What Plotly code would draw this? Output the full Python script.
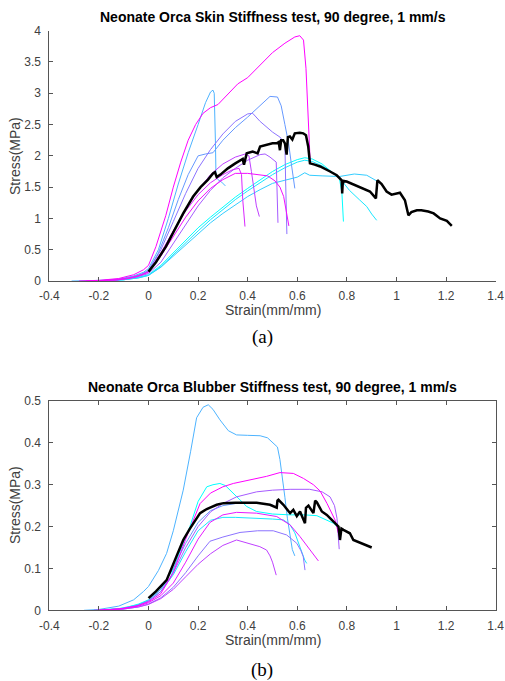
import plotly.graph_objects as go

# Skin test, 90 degree (stress in MPa vs strain)
skin_magenta_x = [-0.28,-0.2,-0.12,-0.06,-0.02,0.0,0.03,0.07,0.1,0.13,0.16,0.19,0.22,0.25,0.28,0.32,0.36,0.4,0.45,0.5,0.55,0.59,0.61,0.625,0.635,0.642,0.648,0.652]
skin_magenta_y = [0,0.01,0.04,0.1,0.18,0.25,0.55,1.05,1.5,1.9,2.25,2.5,2.68,2.77,2.82,2.98,3.15,3.25,3.45,3.65,3.8,3.9,3.92,3.85,3.4,2.8,2.2,1.9]
skin_lightblue_x = [-0.31,-0.2,-0.12,-0.06,-0.02,0.0,0.04,0.08,0.12,0.16,0.2,0.23,0.25,0.26,0.265,0.268,0.27,0.272,0.28,0.295,0.31]
skin_lightblue_y = [0,0.01,0.03,0.08,0.14,0.2,0.5,1.0,1.55,2.05,2.5,2.85,3.02,3.05,3.0,2.7,2.2,1.7,1.62,1.58,1.52]
skin_blue_x = [-0.25,-0.15,-0.08,-0.03,0.0,0.04,0.08,0.12,0.16,0.2,0.23,0.26,0.3,0.35,0.4,0.45,0.49,0.52,0.535,0.55,0.565,0.575,0.585,0.59]
skin_blue_y = [0,0.01,0.05,0.11,0.17,0.45,0.85,1.3,1.7,2.0,2.03,2.05,2.25,2.45,2.62,2.8,2.95,2.94,2.8,2.5,2.2,1.9,1.6,1.48]
skin_periwinkle_x = [-0.25,-0.15,-0.08,-0.03,0.0,0.05,0.1,0.15,0.2,0.25,0.3,0.35,0.4,0.42,0.45,0.5,0.53,0.55,0.553,0.556,0.558]
skin_periwinkle_y = [0,0.01,0.04,0.1,0.16,0.5,0.95,1.4,1.8,2.1,2.35,2.55,2.67,2.68,2.55,2.38,2.3,2.2,1.6,1.0,0.75]
skin_purple_x = [-0.25,-0.15,-0.08,-0.03,0,0.05,0.1,0.15,0.2,0.25,0.3,0.35,0.39,0.405,0.415,0.425,0.435,0.447]
skin_purple_y = [0,0.01,0.04,0.09,0.15,0.42,0.8,1.15,1.45,1.7,1.87,1.98,2.03,2.0,1.75,1.45,1.2,1.03]
skin_violet_x = [-0.22,-0.12,-0.05,0,0.05,0.1,0.15,0.2,0.25,0.3,0.35,0.4,0.45,0.47,0.49,0.51,0.515,0.518,0.52,0.522]
skin_violet_y = [0,0.02,0.06,0.12,0.3,0.6,0.9,1.2,1.45,1.65,1.8,1.93,2.02,2.03,1.98,1.92,1.9,1.5,1.1,0.93]
skin_orchid_x = [-0.25,-0.15,-0.07,-0.02,0,0.05,0.1,0.15,0.2,0.25,0.3,0.34,0.365,0.375,0.38,0.385,0.389]
skin_orchid_y = [0,0.01,0.05,0.11,0.15,0.45,0.8,1.12,1.38,1.57,1.7,1.78,1.8,1.7,1.3,1.0,0.87]
skin_pink_x = [-0.22,-0.12,-0.05,0,0.05,0.1,0.15,0.2,0.25,0.3,0.35,0.4,0.45,0.48,0.51,0.53,0.545,0.555,0.562,0.566]
skin_pink_y = [0,0.02,0.07,0.14,0.4,0.72,1.02,1.28,1.48,1.62,1.72,1.72,1.7,1.68,1.6,1.5,1.35,1.15,0.95,0.88]
skin_cyan1_x = [-0.2,-0.1,-0.04,0,0.05,0.1,0.15,0.2,0.25,0.3,0.35,0.4,0.45,0.5,0.55,0.6,0.63,0.66,0.7,0.74,0.77,0.78,0.783,0.786]
skin_cyan1_y = [0,0.02,0.06,0.1,0.25,0.45,0.65,0.85,1.02,1.18,1.34,1.48,1.62,1.75,1.86,1.94,1.97,1.95,1.87,1.73,1.64,1.4,1.1,0.95]
skin_cyan2_x = [-0.2,-0.1,-0.04,0,0.05,0.1,0.15,0.2,0.25,0.3,0.35,0.4,0.45,0.5,0.55,0.6,0.63,0.66,0.7,0.74,0.77,0.81,0.85,0.88,0.9,0.92]
skin_cyan2_y = [0,0.02,0.05,0.09,0.23,0.42,0.62,0.8,0.98,1.14,1.3,1.44,1.57,1.7,1.81,1.9,1.93,1.91,1.84,1.74,1.65,1.45,1.3,1.19,1.07,0.97]
skin_sky_x = [-0.2,-0.1,-0.04,0,0.05,0.1,0.15,0.2,0.25,0.3,0.35,0.4,0.45,0.5,0.55,0.6,0.63,0.65,0.7,0.77,0.83,0.88,0.92]
skin_sky_y = [0,0.02,0.05,0.09,0.22,0.4,0.58,0.76,0.93,1.08,1.22,1.35,1.46,1.56,1.61,1.66,1.73,1.69,1.68,1.67,1.71,1.69,1.6]
skin_mean_x = [0,0.03,0.07,0.1,0.14,0.18,0.21,0.24,0.26,0.268,0.275,0.29,0.32,0.35,0.38,0.385,0.39,0.396,0.42,0.44,0.45,0.47,0.5,0.517,0.525,0.53,0.535,0.543,0.55,0.557,0.562,0.57,0.58,0.59,0.61,0.624,0.635,0.644,0.648,0.651,0.67,0.692,0.732,0.759,0.779,0.781,0.783,0.787,0.799,0.84,0.893,0.917,0.919,0.923,0.94,0.96,0.98,1.014,1.034,1.048,1.06,1.082,1.1,1.128,1.15,1.176,1.203,1.223]
skin_mean_y = [0.15,0.3,0.55,0.78,1.08,1.35,1.5,1.62,1.72,1.74,1.66,1.7,1.8,1.88,1.95,1.86,1.96,2.04,2.07,2.04,2.15,2.17,2.2,2.2,2.22,2.09,2.25,2.25,2.2,2.02,2.3,2.31,2.26,2.36,2.37,2.36,2.33,2.15,2.0,1.88,1.86,1.83,1.75,1.69,1.61,1.4,1.55,1.6,1.59,1.52,1.43,1.32,1.45,1.61,1.55,1.43,1.38,1.41,1.29,1.05,1.1,1.13,1.13,1.11,1.08,1.0,0.96,0.88]

# Blubber test, 90 degree
blub_lightblue_x = [-0.26,-0.2,-0.12,-0.06,-0.02,0.0,0.04,0.073,0.1,0.14,0.17,0.194,0.22,0.241,0.26,0.288,0.322,0.355,0.4,0.45,0.48,0.503,0.52,0.53,0.54,0.55,0.56,0.57,0.58,0.59]
blub_lightblue_y = [0,0.002,0.01,0.025,0.045,0.057,0.095,0.136,0.19,0.287,0.38,0.46,0.485,0.491,0.48,0.455,0.429,0.419,0.418,0.417,0.412,0.4,0.39,0.36,0.32,0.27,0.22,0.18,0.145,0.13]
blub_cyan1_x = [-0.2,-0.1,-0.04,0,0.04,0.087,0.12,0.167,0.2,0.235,0.26,0.288,0.31,0.342,0.37,0.396,0.436,0.5,0.571,0.63,0.679,0.72,0.746,0.77]
blub_cyan1_y = [0,0.005,0.015,0.025,0.045,0.075,0.13,0.2,0.26,0.295,0.3,0.303,0.298,0.28,0.262,0.248,0.236,0.23,0.228,0.228,0.226,0.216,0.208,0.195]
blub_cyan2_x = [-0.22,-0.12,-0.05,0,0.05,0.1,0.15,0.2,0.25,0.3,0.35,0.4,0.45,0.5,0.544,0.57,0.59,0.605,0.62,0.63,0.638]
blub_cyan2_y = [0,0.004,0.012,0.022,0.045,0.085,0.14,0.19,0.215,0.222,0.222,0.221,0.22,0.218,0.216,0.205,0.185,0.16,0.135,0.12,0.112]
blub_magenta_x = [-0.22,-0.12,-0.05,0,0.05,0.1,0.15,0.208,0.25,0.3,0.342,0.4,0.476,0.53,0.584,0.625,0.665,0.692,0.72,0.752,0.765,0.772]
blub_magenta_y = [0,0.003,0.01,0.02,0.04,0.09,0.17,0.255,0.28,0.295,0.303,0.31,0.32,0.329,0.327,0.315,0.3,0.285,0.255,0.216,0.19,0.17]
blub_violet_x = [-0.2,-0.1,-0.04,0,0.05,0.1,0.15,0.2,0.25,0.3,0.355,0.436,0.5,0.571,0.65,0.7,0.732,0.75,0.76,0.765,0.769]
blub_violet_y = [0,0.004,0.012,0.022,0.045,0.09,0.15,0.2,0.235,0.255,0.271,0.283,0.287,0.289,0.289,0.283,0.271,0.25,0.22,0.18,0.146]
blub_pink_x = [-0.2,-0.1,-0.04,0,0.05,0.1,0.15,0.2,0.248,0.3,0.355,0.4,0.436,0.517,0.571,0.611,0.651,0.685]
blub_pink_y = [0,0.004,0.01,0.018,0.035,0.065,0.115,0.17,0.21,0.228,0.234,0.233,0.232,0.224,0.204,0.176,0.144,0.118]
blub_periwinkle_x = [-0.2,-0.1,-0.04,0,0.05,0.1,0.15,0.2,0.248,0.3,0.369,0.44,0.503,0.557,0.598,0.615,0.624,0.631]
blub_periwinkle_y = [0,0.003,0.008,0.015,0.03,0.055,0.09,0.13,0.165,0.175,0.186,0.19,0.19,0.18,0.16,0.142,0.128,0.096]
blub_purple_x = [-0.18,-0.1,-0.04,0,0.05,0.1,0.15,0.2,0.25,0.3,0.355,0.4,0.449,0.476,0.49,0.5,0.51,0.515]
blub_purple_y = [0,0.003,0.008,0.014,0.028,0.05,0.08,0.11,0.135,0.155,0.168,0.16,0.152,0.144,0.13,0.115,0.095,0.084]
blub_blue_x = [-0.2,-0.1,-0.04,0,0.05,0.1,0.15,0.2,0.25,0.3,0.35,0.42,0.5]
blub_blue_y = [0,0.004,0.012,0.024,0.05,0.1,0.16,0.21,0.238,0.25,0.255,0.257,0.252]
blub_mean_x = [0,0.03,0.073,0.1,0.14,0.167,0.208,0.235,0.275,0.302,0.35,0.436,0.49,0.517,0.52,0.524,0.544,0.571,0.584,0.598,0.611,0.631,0.635,0.645,0.665,0.672,0.679,0.699,0.719,0.746,0.766,0.772,0.778,0.786,0.812,0.826,0.86,0.9]
blub_mean_y = [0.029,0.045,0.072,0.11,0.168,0.195,0.232,0.242,0.252,0.256,0.257,0.257,0.252,0.245,0.262,0.264,0.252,0.232,0.24,0.225,0.236,0.208,0.245,0.25,0.232,0.262,0.258,0.236,0.228,0.212,0.2,0.168,0.195,0.192,0.184,0.168,0.16,0.15]

# tick labels (hyphen minus as in the original)
strain_ticks = [-0.4,-0.2,0,0.2,0.4,0.6,0.8,1,1.2,1.4]
strain_labels = ['-0.4','-0.2','0','0.2','0.4','0.6','0.8','1','1.2','1.4']

skin_curves = [
	(skin_cyan1_x, skin_cyan1_y, '#00ffff'),
	(skin_cyan2_x, skin_cyan2_y, '#19e6ff'),
	(skin_sky_x, skin_sky_y, '#33ccff'),
	(skin_lightblue_x, skin_lightblue_y, '#4db3ff'),
	(skin_blue_x, skin_blue_y, '#6699ff'),
	(skin_periwinkle_x, skin_periwinkle_y, '#8c73ff'),
	(skin_violet_x, skin_violet_y, '#a65aff'),
	(skin_purple_x, skin_purple_y, '#bf40ff'),
	(skin_orchid_x, skin_orchid_y, '#d926ff'),
	(skin_pink_x, skin_pink_y, '#f20dff'),
	(skin_magenta_x, skin_magenta_y, '#ff00ff'),
]
blub_curves = [
	(blub_cyan1_x, blub_cyan1_y, '#00ffff'),
	(blub_cyan2_x, blub_cyan2_y, '#1ae6ff'),
	(blub_lightblue_x, blub_lightblue_y, '#4db3ff'),
	(blub_blue_x, blub_blue_y, '#6699ff'),
	(blub_periwinkle_x, blub_periwinkle_y, '#8c73ff'),
	(blub_violet_x, blub_violet_y, '#a65aff'),
	(blub_purple_x, blub_purple_y, '#bf40ff'),
	(blub_pink_x, blub_pink_y, '#e619ff'),
	(blub_magenta_x, blub_magenta_y, '#ff00ff'),
]

fig = go.Figure()
for x, y, c in skin_curves:
	fig.add_trace(go.Scatter(x=x, y=y, mode='lines', line=dict(color=c, width=1), xaxis='x', yaxis='y'))
fig.add_trace(go.Scatter(x=skin_mean_x, y=skin_mean_y, mode='lines', line=dict(color='black', width=2.5), xaxis='x', yaxis='y'))
for x, y, c in blub_curves:
	fig.add_trace(go.Scatter(x=x, y=y, mode='lines', line=dict(color=c, width=1), xaxis='x2', yaxis='y2'))
fig.add_trace(go.Scatter(x=blub_mean_x, y=blub_mean_y, mode='lines', line=dict(color='black', width=2.5), xaxis='x2', yaxis='y2'))

W, H = 505, 681
xdom = [49.3/W, 495.7/W]
tickfont = dict(family='Liberation Sans, Arial', size=12, color='#404040')
axis_common = dict(
	showgrid=False, zeroline=False, showline=True, linecolor='#555555', linewidth=1,
	ticks='inside', ticklen=4, tickcolor='#555555', tickfont=tickfont,
	automargin=False, ticklabeloverflow='allow',
)
xaxis_common = dict(range=[-0.4, 1.4], tickvals=strain_ticks, ticktext=strain_labels, ticklabelstandoff=4, domain=xdom, **axis_common)
fig.update_layout(
	width=W, height=H,
	margin=dict(l=0, r=0, t=0, b=0),
	paper_bgcolor='white', plot_bgcolor='white',
	showlegend=False,
	xaxis=dict(anchor='y', **xaxis_common),
	yaxis=dict(domain=[1-281/H, 1-30.7/H], range=[0, 4], dtick=0.5, anchor='x', ticklabelstandoff=5, **axis_common),
	xaxis2=dict(anchor='y2', mirror='ticks', **xaxis_common),
	yaxis2=dict(domain=[1-610.3/H, 1-401/H], range=[0, 0.5], dtick=0.1, anchor='x2', mirror='ticks', ticklabelstandoff=5, **axis_common),
)

label_font = dict(family='Liberation Sans, Arial', size=14, color='#404040')
title_font = dict(family='Liberation Sans, Arial', size=14, color='black')
panel_font = dict(family='Liberation Serif, Times New Roman', size=19, color='black')
annots = [
	('<b>Neonate Orca Skin Stiffness test, 90 degree, 1 mm/s</b>', 272.5, 17, 0, title_font),
	('Strain(mm/mm)', 272.5, 310, 0, label_font),
	('Stress(MPa)', 15, 156, -90, label_font),
	('(a)', 262, 337, 0, panel_font),
	('<b>Neonate Orca Blubber Stiffness test, 90 degree, 1 mm/s</b>', 272.5, 387, 0, title_font),
	('Strain(mm/mm)', 272.5, 640, 0, label_font),
	('Stress(MPa)', 15, 505, -90, label_font),
	('(b)', 262, 670, 0, panel_font),
]
for text, px, py, ang, f in annots:
	fig.add_annotation(
		text=text, x=px/W, y=1-py/H, xref='paper', yref='paper',
		xanchor='center', yanchor='middle', showarrow=False, textangle=ang, font=f,
	)

# the page body has an 8px default margin; drop it so the figure fills the window
fig.write_html("out.html", config={'displayModeBar': False}, post_script="document.body.style.margin='0';")
